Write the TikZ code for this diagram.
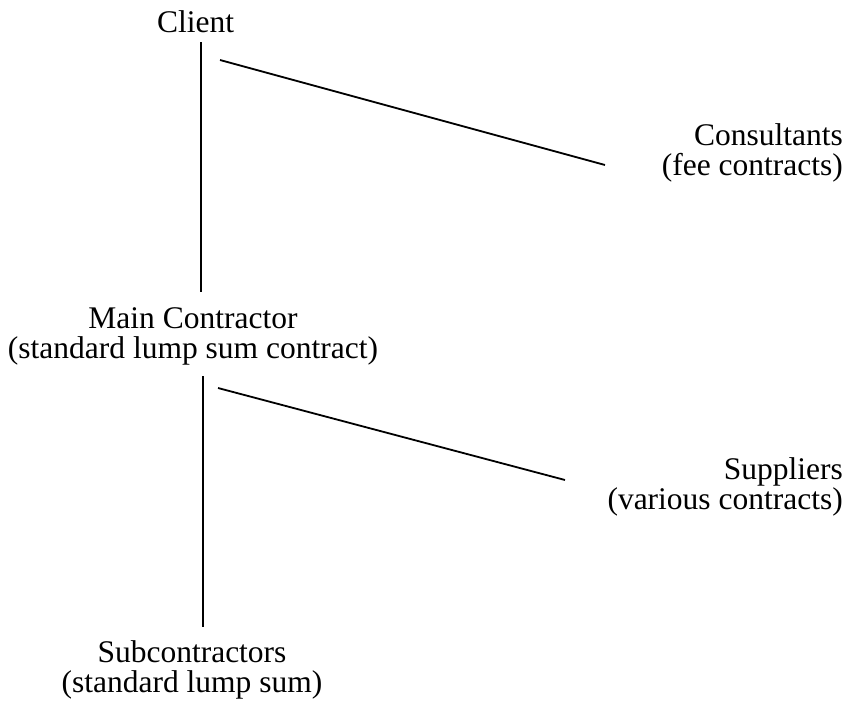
\documentclass[tikz,border=0pt]{standalone}
\usepackage{fontspec}
\setmainfont{Liberation Serif}
\begin{document}
\begin{tikzpicture}[x=1pt,y=-1pt,
  lbl/.style={inner sep=0pt,font=\fontsize{31.5}{30}\selectfont,anchor=base},
  link/.style={line width=1.8pt}]
\useasboundingbox (0,0) rectangle (847,704);
\node[lbl,align=center] (client) at (195.5,32) {Client};
\node[lbl,align=right,anchor=base east] (cons) at (843,175) {Consultants\\(fee contracts)};
\node[lbl,align=center] (main) at (193,358) {Main Contractor\\(standard lump sum contract)};
\node[lbl,align=right,anchor=base east] (supp) at (843,509) {Suppliers\\(various contracts)};
\node[lbl,align=center] (sub) at (192,692) {Subcontractors\\(standard lump sum)};
\coordinate (c1) at (201,42);
\coordinate (c2) at (201,292);
\coordinate (c3) at (220,60);
\coordinate (c4) at (605,165);
\coordinate (m1) at (203,376);
\coordinate (m2) at (203,627);
\coordinate (m3) at (218,388);
\coordinate (m4) at (565,480);
\draw[link] (c1) -- (c2);
\draw[link] (c3) -- (c4);
\draw[link] (m1) -- (m2);
\draw[link] (m3) -- (m4);
\end{tikzpicture}
\end{document}
